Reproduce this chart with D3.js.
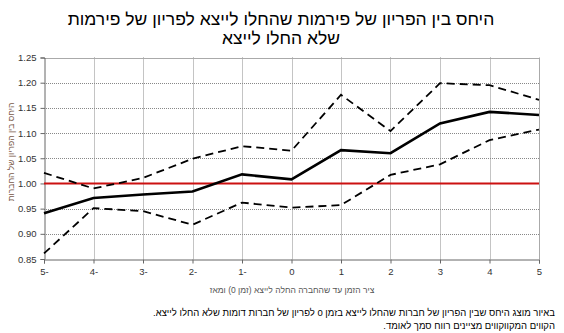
<!DOCTYPE html>
<html><head><meta charset="utf-8">
<script src="https://cdn.jsdelivr.net/npm/d3@7/dist/d3.min.js"></script>
<style>body{margin:0;background:#fff}svg{display:block}</style>
</head><body>
<script>
const years = [-5,-4,-3,-2,-1,0,1,2,3,4,5];
const xTickLabels = ["5-","4-","3-","2-","1-","0","1","2","3","4","5"];
const estimate = [0.941,0.971,0.978,0.984,1.018,1.008,1.066,1.060,1.119,1.142,1.136];
const upper = [1.021,0.990,1.011,1.049,1.074,1.065,1.176,1.104,1.199,1.195,1.166];
const lower = [0.861,0.951,0.945,0.918,0.962,0.952,0.957,1.017,1.038,1.086,1.107];
const yTicks = [0.85,0.90,0.95,1.00,1.05,1.10,1.15,1.20,1.25];
const refValue = 1.0;
const titleLines = ["היחס בין הפריון של פירמות שהחלו לייצא לפריון של פירמות","שלא החלו לייצא"];
const yTitle = "היחס בין הפריון של החברות";
const xTitle = "ציר הזמן עד שהחברה החלה לייצא (זמן 0) ומאז";
const notes = ["באיור מוצג היחס שבין הפריון של חברות שהחלו לייצא בזמן 0 לפריון של חברות דומות שלא החלו לייצא.","הקווים המקווקווים מציינים רווח סמך לאומד."];

const W=564,H=333;
const svg=d3.select("body").append("svg").attr("width",W).attr("height",H);
const x=d3.scaleLinear().domain([-5,5]).range([44,539]);
const y=d3.scaleLinear().domain([0.85,1.25]).range([259,57.5]);
const font="Liberation Sans, Arial, sans-serif";

// gridlines
const g=svg.append("g");
g.selectAll(".hg").data(yTicks.filter(d=>d>0.85&&d<1.25)).join("line")
 .attr("x1",x(-5)).attr("x2",x(5)).attr("y1",d=>Math.round(y(d))+0.5).attr("y2",d=>Math.round(y(d))+0.5)
 .attr("stroke","#888").attr("stroke-width",1).attr("stroke-dasharray","1,1");
g.selectAll(".vg").data(years.filter(d=>d>-5&&d<5)).join("line")
 .attr("x1",d=>Math.round(x(d))+0.5).attr("x2",d=>Math.round(x(d))+0.5).attr("y1",y(1.25)).attr("y2",y(0.85))
 .attr("stroke","#888").attr("stroke-width",1).attr("stroke-dasharray","1,1");
// top & right border
svg.append("line").attr("x1",x(-5)).attr("x2",x(5)).attr("y1",Math.round(y(1.25))+0.5).attr("y2",Math.round(y(1.25))+0.5).attr("stroke","#aaa");
svg.append("line").attr("x1",Math.round(x(5))+0.5).attr("x2",Math.round(x(5))+0.5).attr("y1",y(1.25)).attr("y2",y(0.85)).attr("stroke","#aaa");

// axes
const yAxis=d3.axisLeft(y).tickValues(yTicks).tickFormat(d3.format(".2f")).tickSize(4);
const ya=svg.append("g").attr("transform",`translate(${Math.round(x(-5))+0.5},0)`).call(yAxis);
ya.select(".domain").attr("stroke","#666");
ya.selectAll(".tick line").attr("stroke","#666");
ya.selectAll("text").attr("font-family",font).attr("font-size",9.5).attr("fill","#333").attr("x",-8);

const xAxis=d3.axisBottom(x).tickValues(years).tickFormat((d,i)=>xTickLabels[i]).tickSize(4);
const xa=svg.append("g").attr("transform",`translate(0,${Math.round(y(0.85))+0.5})`).call(xAxis);
xa.select(".domain").attr("stroke","#666");
xa.selectAll(".tick line").attr("stroke","#666");
xa.selectAll("text").attr("font-family",font).attr("font-size",9.5).attr("fill","#333").attr("y",9);

// reference line
svg.append("line").attr("x1",x(-5)).attr("x2",x(5)).attr("y1",y(refValue)).attr("y2",y(refValue))
 .attr("stroke","#cc1111").attr("stroke-width",2);

const line=d3.line().x((d,i)=>x(years[i])).y(d=>y(d));
svg.append("path").datum(upper).attr("d",line).attr("fill","none").attr("stroke","#000").attr("stroke-width",1.8).attr("stroke-dasharray","8,5");
svg.append("path").datum(lower).attr("d",line).attr("fill","none").attr("stroke","#000").attr("stroke-width",1.8).attr("stroke-dasharray","8,5");
svg.append("path").datum(estimate).attr("d",line).attr("fill","none").attr("stroke","#000").attr("stroke-width",2.6);

// titles
svg.selectAll(".title").data(titleLines).join("text")
 .attr("x",281).attr("y",(d,i)=>25+i*18.5).attr("text-anchor","middle").attr("direction","rtl")
 .attr("font-family",font).attr("font-size",17.5).attr("fill","#000").text(d=>d);

svg.append("text").attr("transform","translate(14,152) rotate(-90)").attr("text-anchor","middle").attr("direction","rtl")
 .attr("font-family",font).attr("font-size",8.5).attr("fill","#7a5a4a").text(yTitle);

svg.append("text").attr("x",292).attr("y",293).attr("text-anchor","middle").attr("direction","rtl")
 .attr("font-family",font).attr("font-size",8.5).attr("fill","#555").text(xTitle);

svg.selectAll(".note").data(notes).join("text")
 .attr("x",555).attr("y",(d,i)=>316+i*13).attr("text-anchor","start").attr("direction","rtl")
 .attr("font-family",font).attr("font-size",9.5).attr("fill","#000").text(d=>d);
</script>
</body></html>
